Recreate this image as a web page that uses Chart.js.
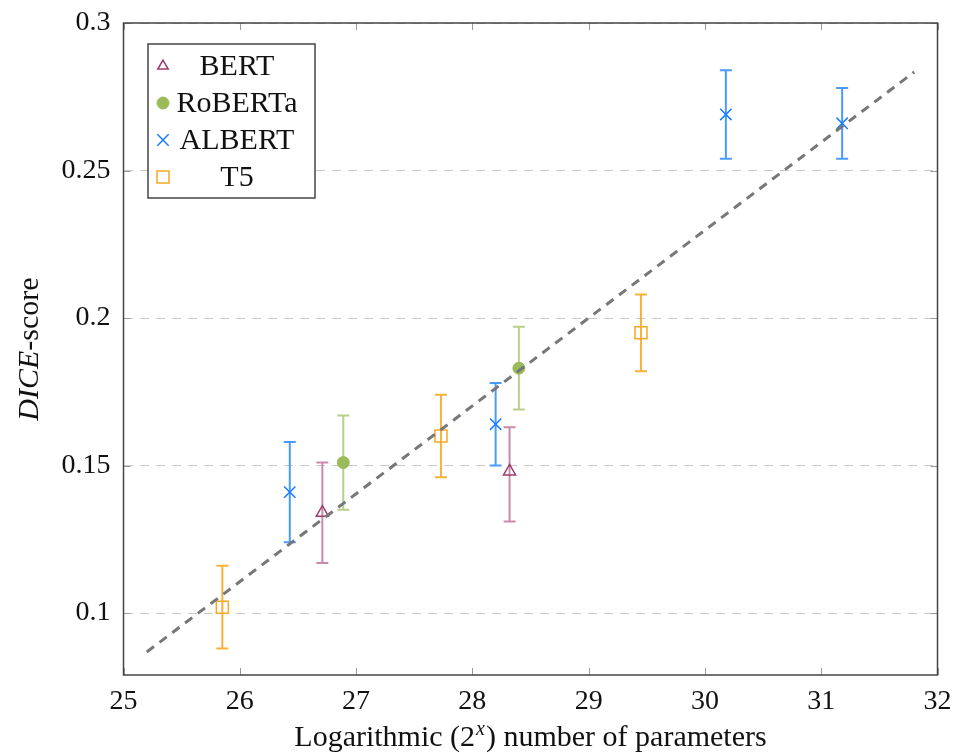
<!DOCTYPE html>
<html>
<head>
<meta charset="utf-8">
<script src="https://cdn.jsdelivr.net/npm/chart.js@4.4.1/dist/chart.umd.min.js"></script>
<style>
  html, body { margin: 0; padding: 0; background: #fff; }
  #wrap { width: 953px; height: 754px; }
</style>
</head>
<body>
<div id="wrap"><canvas id="chart" width="953" height="754"></canvas></div>
<script>
// ============================================
// Data
// ============================================
const bertX = [26.71, 28.32]
const bertY = [0.134, 0.148]
const bertLo = [0.117, 0.131]
const bertHi = [0.151, 0.163]

const robertaX = [26.89, 28.40]
const robertaY = [0.151, 0.183]
const robertaLo = [0.135, 0.169]
const robertaHi = [0.167, 0.197]

const albertX = [26.43, 28.20, 30.18, 31.18]
const albertY = [0.141, 0.164, 0.269, 0.266]
const albertLo = [0.124, 0.150, 0.254, 0.254]
const albertHi = [0.158, 0.178, 0.284, 0.278]

const t5X = [25.85, 27.73, 29.45]
const t5Y = [0.102, 0.160, 0.195]
const t5Lo = [0.088, 0.146, 0.182]
const t5Hi = [0.116, 0.174, 0.208]

const trendX = [25.2, 31.8]
const trendY = [0.0868, 0.2834]

const xTicks = [25, 26, 27, 28, 29, 30, 31, 32]
const yTicks = [0.1, 0.15, 0.2, 0.25, 0.3]

const SERIF = "'Liberation Serif', 'DejaVu Serif', serif"

function pts(xs, ys) {
  return xs.map((x, i) => ({ x: x, y: ys[i] }))
}

// ============================================
// Plugins: error bars, frame ticks, titles, legend
// ============================================
const errorBars = {
  id: "errorBars",
  beforeDatasetsDraw(chart) {
    const ctx = chart.ctx
    const xs = chart.scales.x, ys = chart.scales.y
    chart.data.datasets.forEach((ds) => {
      if (!ds.errLo) return
      ctx.save()
      ctx.strokeStyle = ds.errColor
      ctx.lineWidth = 2
      ds.data.forEach((p, i) => {
        const px = xs.getPixelForValue(p.x)
        const lo = ys.getPixelForValue(ds.errLo[i])
        const hi = ys.getPixelForValue(ds.errHi[i])
        ctx.beginPath()
        ctx.moveTo(px, lo); ctx.lineTo(px, hi)
        ctx.moveTo(px - 6, lo); ctx.lineTo(px + 6, lo)
        ctx.moveTo(px - 6, hi); ctx.lineTo(px + 6, hi)
        ctx.stroke()
      })
      ctx.restore()
    })
  },
}

const frame = {
  id: "frame",
  afterDatasetsDraw(chart) {
    const ctx = chart.ctx
    const a = chart.chartArea
    const xs = chart.scales.x, ys = chart.scales.y
    ctx.save()
    ctx.strokeStyle = "#9a9a9a"
    ctx.lineWidth = 1
    ctx.beginPath()
    xTicks.forEach((v) => {
      const px = Math.round(xs.getPixelForValue(v)) + 0.5
      ctx.moveTo(px, a.bottom); ctx.lineTo(px, a.bottom - 7)
      ctx.moveTo(px, a.top); ctx.lineTo(px, a.top + 7)
    })
    yTicks.forEach((v) => {
      const py = Math.round(ys.getPixelForValue(v)) + 0.5
      ctx.moveTo(a.left, py); ctx.lineTo(a.left + 7, py)
      ctx.moveTo(a.right, py); ctx.lineTo(a.right - 7, py)
    })
    ctx.stroke()
    ctx.strokeStyle = "#444"
    ctx.lineWidth = 1.5
    ctx.strokeRect(a.left, a.top, a.right - a.left, a.bottom - a.top)
    ctx.restore()
  },
}

const titles = {
  id: "titles",
  afterDraw(chart) {
    const ctx = chart.ctx
    const a = chart.chartArea
    ctx.save()
    ctx.fillStyle = "#111"
    ctx.textBaseline = "alphabetic"
    // x title: Logarithmic (2^x) number of parameters
    const f = "30px " + SERIF
    const fs = "italic 20px " + SERIF
    const p1 = "Logarithmic (2", p2 = "x", p3 = ") number of parameters"
    ctx.font = f
    const w1 = ctx.measureText(p1).width, w3 = ctx.measureText(p3).width
    ctx.font = fs
    const w2 = ctx.measureText(p2).width + 2
    const cx = (a.left + a.right) / 2
    const x0 = cx - (w1 + w2 + w3) / 2
    const base = 746
    ctx.font = f; ctx.fillText(p1, x0, base)
    ctx.font = fs; ctx.fillText(p2, x0 + w1 + 1, base - 11)
    ctx.font = f; ctx.fillText(p3, x0 + w1 + w2, base)
    // y title: DICE-score
    ctx.translate(38, (a.top + a.bottom) / 2)
    ctx.rotate(-Math.PI / 2)
    const q1 = "DICE", q2 = "-score"
    ctx.font = "italic 30px " + SERIF
    const v1 = ctx.measureText(q1).width
    ctx.font = f
    const v2 = ctx.measureText(q2).width
    const y0 = -(v1 + v2) / 2
    ctx.font = "italic 30px " + SERIF; ctx.fillText(q1, y0, 0)
    ctx.font = f; ctx.fillText(q2, y0 + v1, 0)
    ctx.restore()
  },
}

const legendBox = {
  id: "legendBox",
  afterDraw(chart) {
    const ctx = chart.ctx
    const left = 148, top = 44, right = 315, bottom = 198
    ctx.save()
    ctx.fillStyle = "#fff"
    ctx.fillRect(left, top, right - left, bottom - top)
    ctx.strokeStyle = "#444"
    ctx.lineWidth = 1.5
    ctx.strokeRect(left, top, right - left, bottom - top)
    const rows = [66, 103, 140, 177]
    chart.data.datasets.filter((d) => d.inLegend).forEach((ds, i) => {
      const y = rows[i]
      ctx.strokeStyle = ds.pointBorderColor
      ctx.fillStyle = ds.pointBackgroundColor
      ctx.lineWidth = ds.pointBorderWidth
      Chart.helpers.drawPoint(ctx, {
        pointStyle: ds.pointStyle,
        radius: ds.legendRadius,
        rotation: 0,
        borderWidth: ds.pointBorderWidth,
      }, 163, y)
      ctx.fillStyle = "#111"
      ctx.font = "30px " + SERIF
      ctx.textAlign = "center"
      ctx.textBaseline = "middle"
      ctx.fillText(ds.label, 237, y + 1)
    })
    ctx.restore()
  },
}

// ============================================
// Chart
// ============================================
const ctx = document.getElementById("chart").getContext("2d")
new Chart(ctx, {
  type: "scatter",
  data: {
    datasets: [
      {
        label: "BERT",
        data: pts(bertX, bertY),
        errLo: bertLo, errHi: bertHi, errColor: "#c98aaa",
        pointStyle: "triangle", pointRadius: 7, legendRadius: 6,
        pointBorderColor: "#9b3b6e", pointBackgroundColor: "rgba(255,255,255,0)",
        pointBorderWidth: 1.5, inLegend: true, order: 2,
      },
      {
        label: "RoBERTa",
        data: pts(robertaX, robertaY),
        errLo: robertaLo, errHi: robertaHi, errColor: "#b8cf8a",
        pointStyle: "circle", pointRadius: 6, legendRadius: 6,
        pointBorderColor: "#9bbb59", pointBackgroundColor: "#9bbb59",
        pointBorderWidth: 1, inLegend: true, order: 2,
      },
      {
        label: "ALBERT",
        data: pts(albertX, albertY),
        errLo: albertLo, errHi: albertHi, errColor: "#4a9bff",
        pointStyle: "crossRot", pointRadius: 8, legendRadius: 8,
        pointBorderColor: "#1a7cff", pointBackgroundColor: "#1a7cff",
        pointBorderWidth: 1.5, inLegend: true, order: 2,
      },
      {
        label: "T5",
        data: pts(t5X, t5Y),
        errLo: t5Lo, errHi: t5Hi, errColor: "#f9b13a",
        pointStyle: "rect", pointRadius: 8.5, legendRadius: 8.5,
        pointBorderColor: "#f7a823", pointBackgroundColor: "rgba(255,255,255,0)",
        pointBorderWidth: 1.5, inLegend: true, order: 2,
      },
      {
        label: "trend",
        type: "line",
        data: pts(trendX, trendY),
        borderColor: "#777",
        borderWidth: 3,
        borderDash: [9, 7],
        pointRadius: 0,
        fill: false,
        order: 1,
      },
    ],
  },
  options: {
    responsive: false,
    animation: false,
    events: [],
    layout: { padding: { top: 23, right: 15.5, left: 0, bottom: 0 } },
    plugins: {
      legend: { display: false },
      tooltip: { enabled: false },
    },
    scales: {
      x: {
        type: "linear",
        min: 25,
        max: 32,
        afterFit: (s) => { s.height = 79; s.paddingLeft = 0; s.paddingRight = 0 },
        afterBuildTicks: (s) => { s.ticks = xTicks.map((v) => ({ value: v })) },
        grid: { display: false, drawTicks: false },
        border: { display: false },
        ticks: {
          padding: 10,
          color: "#111",
          font: { family: SERIF, size: 28 },
          maxRotation: 0,
        },
      },
      y: {
        type: "linear",
        min: 0.079,
        max: 0.3,
        afterFit: (s) => { s.width = 123.5; s.paddingTop = 0; s.paddingBottom = 0 },
        afterBuildTicks: (s) => { s.ticks = yTicks.map((v) => ({ value: v })) },
        grid: { color: "#c8c8c8", lineWidth: 1, drawTicks: false },
        border: { display: false, dash: [9, 7] },
        ticks: {
          padding: 13,
          color: "#111",
          font: { family: SERIF, size: 28 },
          callback: (v) => String(Number(v.toFixed(2))),
        },
      },
    },
  },
  plugins: [errorBars, frame, titles, legendBox],
})
</script>
</body>
</html>
